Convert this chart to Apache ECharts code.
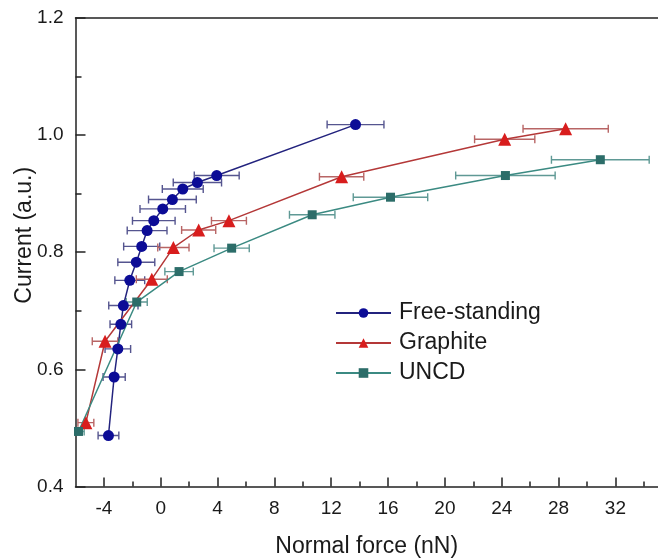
<!DOCTYPE html>
<html><head><meta charset="utf-8">
<script src="https://cdn.jsdelivr.net/npm/echarts@6/dist/echarts.min.js"></script>
<style>html,body{margin:0;padding:0;background:#fff}#c{width:658px;height:558px}</style>
</head><body><div id="c"></div>
<script>
const seriesNames = ['Free-standing', 'Graphite', 'UNCD'];

const freeX   = [-3.68, -3.28, -3.02, -2.81, -2.63, -2.18, -1.72, -1.34, -0.96, -0.49, 0.14, 0.82, 1.55, 2.58, 3.94, 13.71];
const freeY   = [0.487, 0.587, 0.635, 0.677, 0.709, 0.752, 0.783, 0.810, 0.837, 0.854, 0.874, 0.890, 0.908, 0.919, 0.931, 1.018];
const freeErr = [0.73, 0.78, 0.9, 0.76, 1.03, 1.05, 1.3, 1.27, 1.4, 1.5, 1.6, 1.68, 1.44, 1.7, 1.58, 2.0];

const graphX   = [-5.27, -3.92, -0.63, 0.89, 2.67, 4.80, 12.73, 24.21, 28.50];
const graphY   = [0.509, 0.648, 0.754, 0.808, 0.838, 0.854, 0.929, 0.993, 1.011];
const graphErr = [0.56, 0.9, 1.09, 1.1, 1.2, 1.23, 1.56, 2.12, 3.0];

const uncdX   = [-5.79, -1.69, 1.29, 4.99, 10.66, 16.17, 24.26, 30.94];
const uncdY   = [0.494, 0.715, 0.767, 0.807, 0.864, 0.894, 0.931, 0.958];
const uncdErr = [0.4, 0.74, 1.0, 1.24, 1.6, 2.62, 3.5, 3.44];

const xTickLabels = [-4, 0, 4, 8, 12, 16, 20, 24, 28, 32];
const xMinorTicks = [-2, 2, 6, 10, 14, 18, 22, 26, 30, 34];
const yTickLabels = [0.4, 0.6, 0.8, 1.0, 1.2];
const yMinorTicks = [0.5, 0.7, 0.9, 1.1];

const FONT = 'Liberation Sans';
const AX = '#222';

function errSeries(xs, ys, es, color) {
  return {
    type: 'custom',
    xAxisIndex: 0, yAxisIndex: 0,
    silent: true,
    clip: true,
    z: 1,
    encode: { x: 0, y: 1 },
    data: xs.map((x, i) => [x, ys[i], es[i]]),
    renderItem: function (params, api) {
      const x = api.value(0), y = api.value(1), e = api.value(2);
      const p1 = api.coord([x - e, y]), p2 = api.coord([x + e, y]);
      const h = 4;
      const style = { stroke: color, lineWidth: 1.4, fill: null };
      return { type: 'group', children: [
        { type: 'line', shape: { x1: p1[0], y1: p1[1], x2: p2[0], y2: p2[1] }, style: style },
        { type: 'line', shape: { x1: p1[0], y1: p1[1] - h, x2: p1[0], y2: p1[1] + h }, style: style },
        { type: 'line', shape: { x1: p2[0], y1: p2[1] - h, x2: p2[0], y2: p2[1] + h }, style: style }
      ]};
    }
  };
}

const xBase = { type: 'value', min: -6, max: 35, gridIndex: 0, splitLine: { show: false } };
const yBase = { type: 'value', min: 0.4, max: 1.2, gridIndex: 0, splitLine: { show: false } };

const option = {
  animation: false,
  backgroundColor: '#fff',
  grid: { left: 75.5, right: 0, top: 18, bottom: 71.5, containLabel: false, outerBoundsMode: 'none' },
  legend: {
    orient: 'vertical', left: 330, top: 296,
    itemWidth: 55, itemHeight: 12, itemGap: 6,
    textStyle: { fontSize: 23, fontFamily: FONT, color: '#1a1a1a', lineHeight: 24, padding: [0, 0, 0, 3] },
    data: seriesNames
  },
  xAxis: [
    Object.assign({}, xBase, {
      position: 'bottom',
      name: 'Normal force (nN)', nameLocation: 'middle', nameGap: 49, nameMoveOverlap: false,
      nameTextStyle: { fontSize: 23, fontFamily: FONT, color: '#1a1a1a' },
      axisLine: { show: true, onZero: false, lineStyle: { color: AX, width: 1.5 } },
      axisTick: { show: true, inside: true, length: 9, customValues: xTickLabels, lineStyle: { color: AX, width: 1.5 } },
      axisLabel: { show: true, margin: 13, fontSize: 19, fontFamily: FONT, color: '#1a1a1a', customValues: xTickLabels, formatter: v => String(v) }
    }),
    Object.assign({}, xBase, {
      position: 'bottom',
      axisLine: { show: false, onZero: false },
      axisTick: { show: true, inside: true, length: 5, customValues: xMinorTicks, lineStyle: { color: AX, width: 1.5 } },
      axisLabel: { show: false }
    }),
    Object.assign({}, xBase, {
      position: 'top',
      axisLine: { show: true, onZero: false, lineStyle: { color: AX, width: 1.5 } },
      axisTick: { show: false },
      axisLabel: { show: false }
    })
  ],
  yAxis: [
    Object.assign({}, yBase, {
      position: 'left',
      name: 'Current (a.u.)', nameLocation: 'middle', nameGap: 39, nameMoveOverlap: false,
      nameTextStyle: { fontSize: 23, fontFamily: FONT, color: '#1a1a1a', padding: [0, 0, 0, 34] },
      axisLine: { show: true, onZero: false, lineStyle: { color: AX, width: 1.5 } },
      axisTick: { show: true, inside: true, length: 10, customValues: yTickLabels, lineStyle: { color: AX, width: 1.5 } },
      axisLabel: { show: true, margin: 12, fontSize: 19, fontFamily: FONT, color: '#1a1a1a', customValues: yTickLabels, formatter: v => Number(v).toFixed(1) }
    }),
    Object.assign({}, yBase, {
      position: 'left',
      axisLine: { show: false, onZero: false },
      axisTick: { show: true, inside: true, length: 6, customValues: yMinorTicks, lineStyle: { color: AX, width: 1.5 } },
      axisLabel: { show: false }
    })
  ],
  series: [
    errSeries(freeX, freeY, freeErr, '#55558f'),
    errSeries(graphX, graphY, graphErr, '#b86565'),
    errSeries(uncdX, uncdY, uncdErr, '#5f9995'),
    {
      name: seriesNames[0], type: 'line', z: 3,
      data: freeX.map((x, i) => [x, freeY[i]]),
      symbol: 'circle', symbolSize: 11,
      lineStyle: { color: '#23237e', width: 1.5 },
      itemStyle: { color: '#0c0c96' }
    },
    {
      name: seriesNames[1], type: 'line', z: 3,
      data: graphX.map((x, i) => [x, graphY[i]]),
      symbol: 'triangle', symbolSize: 13,
      lineStyle: { color: '#b43838', width: 1.5 },
      itemStyle: { color: '#d81d1d' }
    },
    {
      name: seriesNames[2], type: 'line', z: 3,
      data: uncdX.map((x, i) => [x, uncdY[i]]),
      symbol: 'rect', symbolSize: 9,
      lineStyle: { color: '#3b8a82', width: 1.5 },
      itemStyle: { color: '#2c6d69' }
    }
  ]
};

const chart = echarts.init(document.getElementById('c'));
chart.setOption(option);
</script>
</body></html>
